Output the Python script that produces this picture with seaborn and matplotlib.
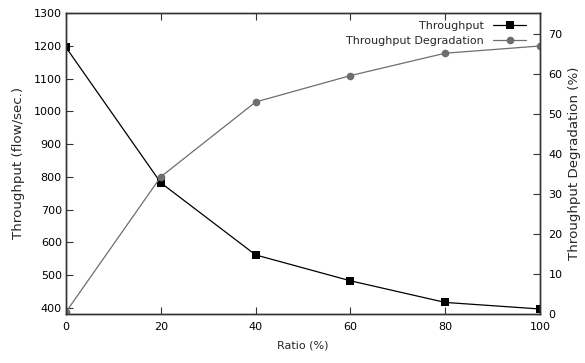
import matplotlib
matplotlib.use("Agg")
import matplotlib.pyplot as plt
import seaborn as sns
import pandas as pd

ratio = [0, 20, 40, 60, 80, 100]
throughput = [1195, 782, 562, 483, 417, 397]
degradation = [0.5, 34.3, 53.0, 59.6, 65.2, 67.0]
x_ticks = [0, 20, 40, 60, 80, 100]
left_ticks = [400, 500, 600, 700, 800, 900, 1000, 1100, 1200, 1300]
right_ticks = [0, 10, 20, 30, 40, 50, 60, 70]

sns.set_style("ticks")
plt.rcParams['font.family'] = ['DejaVu Sans']
plt.rcParams['font.size'] = 8

df = pd.DataFrame({"Ratio": ratio, "Throughput": throughput, "Degradation": degradation})

fig = plt.figure(figsize=(5.85, 3.63), dpi=100)
ax = fig.add_axes([66/585, 1 - 314/363, (540-66)/585, (314-13)/363])
ax2 = ax.twinx()

frame_col = "#333333"
sns.lineplot(data=df, x="Ratio", y="Throughput", ax=ax, color="black", lw=0.9,
             marker="s", markersize=5.5, markeredgewidth=0, label="Throughput", legend=False)
sns.lineplot(data=df, x="Ratio", y="Degradation", ax=ax2, color="#6e6e6e", lw=0.9,
             marker="o", markersize=5.5, markeredgewidth=0, label="Throughput Degradation", legend=False)

ax.set_xlim(0, 100)
ax.set_ylim(381.7, 1300)
ax2.set_ylim(0, 75.25)
ax.set_xticks(x_ticks)
ax.set_yticks(left_ticks)
ax2.set_yticks(right_ticks)

for a in (ax, ax2):
    for s in a.spines.values():
        s.set_color(frame_col)
        s.set_linewidth(1.0)
        s.set_visible(True)
    a.tick_params(direction="in", length=5, width=0.8, color=frame_col, labelsize=8, labelcolor="black")
ax.tick_params(axis="x", top=True, pad=6)
ax.tick_params(axis="y", left=True, right=False, pad=3)
ax2.tick_params(axis="y", right=True, left=False, pad=6)

ax.set_xlabel("Ratio (%)", fontsize=8, labelpad=6)
ax.set_ylabel("Throughput (flow/sec.)", fontsize=9.6, labelpad=6)
ax2.set_ylabel("Throughput Degradation (%)", fontsize=9.6, labelpad=4)

h1, l1 = ax.get_legend_handles_labels()
h2, l2 = ax2.get_legend_handles_labels()
leg = ax2.legend(h1 + h2, l1 + l2, loc="upper right", markerfirst=False, frameon=False,
                 fontsize=8, handlelength=3, borderaxespad=0.2, labelspacing=0.45,
                 bbox_to_anchor=(0.985, 0.995))
for t in leg.get_texts():
    t.set_ha("right")
leg._legend_box.align = "right"

fig.savefig("out.png", dpi=100)
